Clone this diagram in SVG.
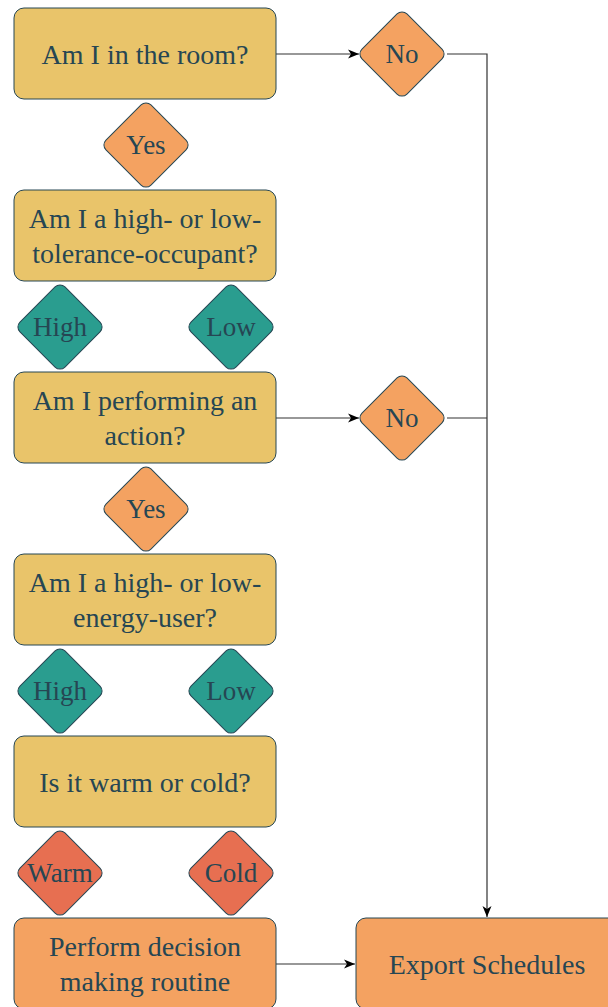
<svg xmlns="http://www.w3.org/2000/svg" width="608" height="1007" viewBox="0 0 608 1007">
  <style>
    .box { fill: #E9C46A; stroke: #264653; stroke-width: 1; }
    .act { fill: #F4A261; stroke: #264653; stroke-width: 1; }
    .dia-o { fill: #F4A261; stroke: #264653; stroke-width: 1; }
    .dia-t { fill: #2A9D8F; stroke: #264653; stroke-width: 1; }
    .dia-r { fill: #E76F51; stroke: #264653; stroke-width: 1; }
    .edge { fill: none; stroke: #333333; stroke-width: 1.2; }
  </style>
  <defs>
    <marker id="arrow" markerWidth="12" markerHeight="12" refX="11" refY="6" orient="auto" markerUnits="userSpaceOnUse">
      <path d="M0,1.5 L11,6 L0,10.5 L3,6 Z" fill="#000000"/>
    </marker>
    <!-- rounded diamond, centred on the origin -->
    <rect id="diamond" x="-31.8" y="-31.8" width="63.6" height="63.6" rx="7" ry="7" transform="rotate(45)"/>
  </defs>

  <g id="connectors">
    <path class="edge" d="M276,54 H359" marker-end="url(#arrow)"/>
    <path class="edge" d="M447,54 H487 V917" marker-end="url(#arrow)"/>
    <path class="edge" d="M276,418 H359" marker-end="url(#arrow)"/>
    <path class="edge" d="M447,418 H487"/>
    <path class="edge" d="M276,964 H355" marker-end="url(#arrow)"/>
  </g>

  <g font-family="'Liberation Serif', 'DejaVu Serif', 'Times New Roman', serif" font-size="28" fill="#264653" text-anchor="middle" dominant-baseline="central">
    <g id="q-room">
      <rect class="box" x="14" y="8" width="262" height="91" rx="10"/>
      <text x="145" y="54">Am I in the room?</text>
    </g>
    <g id="no-room" font-size="27">
      <use href="#diamond" class="dia-o" x="402" y="54"/>
      <text x="402" y="54">No</text>
    </g>
    <g id="yes-room" font-size="27">
      <use href="#diamond" class="dia-o" x="146" y="145"/>
      <text x="146" y="145">Yes</text>
    </g>

    <g id="q-tolerance">
      <rect class="box" x="14" y="190" width="262" height="91" rx="10"/>
      <text x="145" y="218">Am I a high- or low-</text>
      <text x="145" y="253">tolerance-occupant?</text>
    </g>
    <g id="tol-high" font-size="27">
      <use href="#diamond" class="dia-t" x="60" y="327"/>
      <text x="60" y="327">High</text>
    </g>
    <g id="tol-low" font-size="27">
      <use href="#diamond" class="dia-t" x="231" y="327"/>
      <text x="231" y="327">Low</text>
    </g>

    <g id="q-action">
      <rect class="box" x="14" y="372" width="262" height="91" rx="10"/>
      <text x="145" y="400">Am I performing an</text>
      <text x="145" y="435">action?</text>
    </g>
    <g id="no-action" font-size="27">
      <use href="#diamond" class="dia-o" x="402" y="418"/>
      <text x="402" y="418">No</text>
    </g>
    <g id="yes-action" font-size="27">
      <use href="#diamond" class="dia-o" x="146" y="509"/>
      <text x="146" y="509">Yes</text>
    </g>

    <g id="q-energy">
      <rect class="box" x="14" y="554" width="262" height="91" rx="10"/>
      <text x="145" y="582">Am I a high- or low-</text>
      <text x="145" y="617">energy-user?</text>
    </g>
    <g id="energy-high" font-size="27">
      <use href="#diamond" class="dia-t" x="60" y="691"/>
      <text x="60" y="691">High</text>
    </g>
    <g id="energy-low" font-size="27">
      <use href="#diamond" class="dia-t" x="231" y="691"/>
      <text x="231" y="691">Low</text>
    </g>

    <g id="q-weather">
      <rect class="box" x="14" y="736" width="262" height="91" rx="10"/>
      <text x="145" y="782">Is it warm or cold?</text>
    </g>
    <g id="weather-warm" font-size="27">
      <use href="#diamond" class="dia-r" x="60" y="873"/>
      <text x="60" y="873">Warm</text>
    </g>
    <g id="weather-cold" font-size="27">
      <use href="#diamond" class="dia-r" x="231" y="873"/>
      <text x="231" y="873">Cold</text>
    </g>

    <g id="decision-routine">
      <rect class="act" x="14" y="918" width="262" height="91" rx="10"/>
      <text x="145" y="946">Perform decision</text>
      <text x="145" y="981">making routine</text>
    </g>
    <g id="export-schedules">
      <rect class="act" x="356" y="918" width="262" height="91" rx="10"/>
      <text x="487" y="964">Export Schedules</text>
    </g>
  </g>
</svg>
